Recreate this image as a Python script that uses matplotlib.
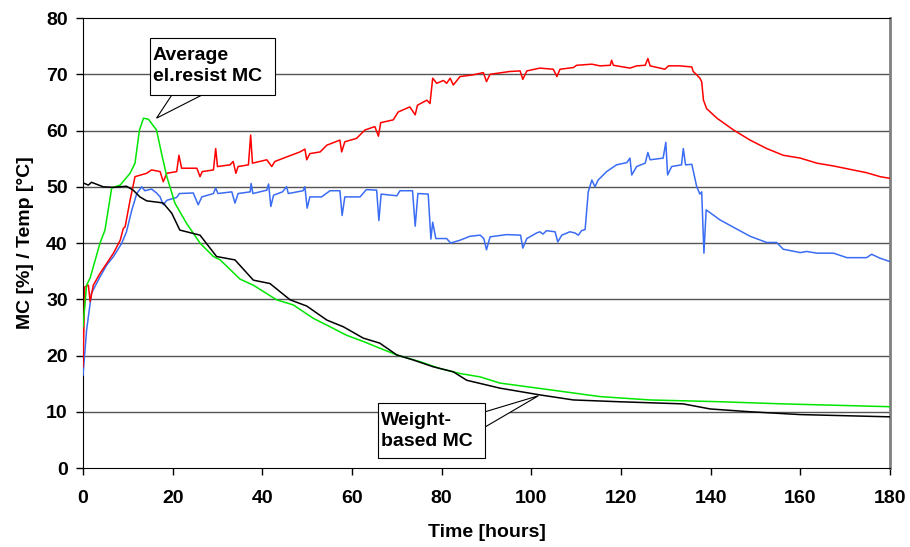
import matplotlib
matplotlib.use("Agg")
import matplotlib.pyplot as plt
from matplotlib.patches import Rectangle, Polygon
import numpy as np

plt.rcParams['font.family'] = ['Liberation Sans', 'DejaVu Sans']
plt.rcParams['font.weight'] = 'bold'

# 温度曲线 (红)
red_t = [0, 0.4, 1.2, 1.6, 2.3, 3.8, 5.3, 6.8, 8.3, 9.0, 9.4, 10.5, 11.6, 14.2, 15.3,
         17.2, 17.9, 18.7, 20.9, 21.4, 22.0, 25.4, 26.1, 26.6, 29.1, 29.6, 30.0, 32.8,
         33.5, 34.1, 34.6, 36.9, 37.4, 37.8, 41.0, 42.1, 42.8, 45.4, 48.4, 49.5, 49.9,
         50.6, 52.9, 54.4, 57.3, 57.7, 58.4, 61.0, 62.9, 65.1, 65.9, 66.4, 69.2, 70.3,
         72.9, 74.1, 74.6, 76.7, 77.4, 78.0, 78.9, 80.4, 81.1, 81.9, 82.6, 84.1, 87.0,
         89.3, 90.0, 90.8, 95.2, 97.5, 98.1, 99.0, 101.9, 104.9, 105.7, 106.4, 109.4,
         110.1, 113.5, 115.3, 117.6, 117.9, 118.3, 122.0, 123.5, 125.4, 126.0, 126.5,
         129.8, 130.6, 133.2, 135.8, 136.1, 136.9, 137.6, 138.0, 138.4, 139.1, 141.4,
         145.1, 148.8, 152.5, 156.2, 160.0, 163.7, 167.4, 171.1, 174.8, 177.8, 180]
red_v = [18.0, 32.2, 32.5, 29.6, 32.5, 34.6, 36.4, 38.2, 40.5, 42.6, 42.9, 47.6, 51.8, 52.4, 53.0,
         52.7, 50.9, 52.4, 52.7, 55.6, 53.3, 53.3, 51.8, 52.7, 53.0, 56.8, 53.6, 53.9,
         54.5, 52.4, 53.6, 53.9, 59.2, 54.2, 54.8, 53.6, 54.5, 55.3, 56.2, 56.7, 54.8,
         55.9, 56.2, 57.4, 58.3, 56.2, 58.0, 58.6, 60.1, 60.7, 59.0, 61.4, 61.9, 63.3,
         64.2, 62.8, 64.5, 65.4, 64.8, 69.3, 68.4, 68.9, 68.4, 69.3, 68.1, 69.6, 69.9,
         70.3, 68.7, 70.0, 70.5, 70.6, 69.1, 70.6, 71.1, 70.9, 69.6, 70.9, 71.2,
         71.6, 71.8, 71.5, 71.6, 72.5, 71.6, 71.1, 71.5, 71.6, 72.8, 71.5,
         70.9, 71.5, 71.5, 71.3, 70.5, 69.9, 69.3, 68.7, 65.4, 63.9, 62.2,
         60.1, 58.3, 56.8, 55.6, 55.1, 54.2, 53.7, 53.1, 52.5, 51.8, 51.5]

# 温度曲线 (蓝)
blue_t = [0, 0.8, 1.9, 3.8, 5.3, 6.8, 8.6, 9.7, 10.9, 12.0, 13.1, 13.8, 15.3, 16.4, 17.2,
          17.9, 18.7, 20.9, 21.5, 24.6, 25.7, 26.5, 29.1, 29.6, 30.1, 33.2, 33.9, 34.6,
          37.3, 37.5, 37.9, 41.0, 41.4, 41.9, 42.5, 44.5, 45.4, 45.8, 49.1, 49.5, 50.0,
          50.6, 53.2, 55.1, 57.3, 57.8, 58.4, 61.8, 63.2, 65.5, 66.0, 66.5, 70.0, 70.7,
          73.5, 74.1, 74.7, 77.0, 77.6, 78.0, 78.7, 81.1, 82.0, 84.1, 86.3, 88.6, 89.4,
          90.0, 90.8, 94.5, 97.6, 98.1, 99.0, 101.2, 101.9, 102.6, 103.4, 105.3, 105.9,
          106.8, 108.6, 109.7, 110.5, 111.2, 112.0, 112.7, 113.5, 114.2, 114.9, 116.8,
          119.0, 121.3, 122.0, 122.4, 123.5, 125.4, 126.0, 126.5, 129.4, 130.0, 130.4,
          131.3, 133.5, 133.9, 134.4, 135.8, 136.9, 137.6, 138.0, 138.5, 139.0, 142.1,
          145.8, 148.8, 152.5, 154.7, 156.2, 160.0, 161.4, 163.7, 167.4, 170.4, 174.8,
          175.9, 177.8, 180]
blue_v = [16.5, 24.5, 31.1, 34.0, 36.1, 37.6, 39.9, 42.0, 45.9, 48.8, 50.0, 49.3, 49.6, 48.9, 48.2,
          46.8, 47.6, 48.1, 48.8, 48.9, 46.8, 48.2, 48.8, 49.8, 48.8, 49.1, 47.1, 48.8,
          49.1, 50.6, 48.8, 49.4, 50.5, 46.5, 48.5, 49.1, 50.0, 48.8, 49.3, 50.0, 46.2,
          48.2, 48.2, 49.3, 49.3, 44.9, 48.2, 48.2, 49.5, 49.4, 44.0, 48.7, 48.4, 49.3,
          49.3, 43.0, 48.8, 48.7, 40.7, 43.7, 40.8, 40.8, 40.0, 40.5, 41.2, 41.4, 40.8,
          38.8, 41.1, 41.5, 41.4, 39.1, 40.8, 41.8, 42.0, 41.6, 42.2, 42.0, 40.2,
          41.4, 42.0, 41.8, 41.4, 42.2, 42.4, 49.1, 51.2, 50.0, 51.2, 52.7,
          53.9, 54.3, 55.1, 52.1, 53.6, 54.2, 56.1, 54.8, 55.1, 57.9, 52.1,
          53.6, 53.9, 56.8, 53.9, 54.0, 50.0, 48.7, 49.1, 38.2, 45.9, 44.1,
          42.5, 41.2, 40.1, 40.1, 38.9, 38.3, 38.5, 38.2, 38.2, 37.4, 37.4,
          38.0, 37.3, 36.7]

# 平均电阻法含水率 (绿)
green_t = [0, 0.8, 1.6, 3.8, 4.9, 6.4, 8.3, 10.5, 11.6, 12.6, 13.5, 14.6, 16.4, 17.5, 18.7,
           20.5, 23.1, 26.1, 27.2, 29.1, 30.6, 35.0, 38.0, 43.2, 46.9, 51.4, 54.4, 58.8,
           62.5, 66.2, 70.0, 75.2, 79.6, 84.1, 88.6, 93.0, 104.2, 115.3, 126.5, 141.4,
           156.2, 180]
green_v = [25.1, 32.5, 33.8, 40.0, 42.3, 49.8, 50.3, 52.4, 54.2, 60.1, 62.2, 62.0, 60.1, 56.0, 51.8,
           47.1, 43.5, 40.0, 39.1, 37.6, 37.0, 33.6, 32.5, 29.9, 29.0, 26.6, 25.4, 23.6,
           22.5, 21.3, 20.1, 18.9, 17.7, 16.8, 16.2, 15.1, 13.9, 12.7, 12.1, 11.8,
           11.4, 10.9]

# 称重法含水率 (黑)
black_t = [0, 1.2, 1.9, 4.5, 6.8, 9.7, 11.2, 12.7, 14.2, 17.2, 17.9, 19.8, 21.6, 23.1, 26.1,
           29.8, 33.9, 38.0, 41.7, 46.2, 49.9, 54.4, 58.1, 62.5, 66.2, 70.0, 73.7, 78.1,
           82.6, 85.6, 93.0, 101.9, 109.4, 119.0, 133.9, 139.9, 148.8, 160.0, 180]
black_v = [50.7, 50.3, 50.8, 50.0, 49.9, 50.1, 49.4, 48.2, 47.5, 47.2, 47.1, 45.3, 42.3, 42.0, 41.4,
           37.6, 37.0, 33.4, 32.8, 29.9, 28.8, 26.3, 25.1, 23.1, 22.2, 20.1, 19.2, 18.0,
           17.1, 15.6, 14.2, 13.0, 12.1, 11.8, 11.4, 10.5, 10.0, 9.5, 9.1]

x_ticks = list(range(0, 181, 20))
y_ticks = list(range(0, 81, 10))


def callout(ax, box, base, tip, text, text_xy):
    # 标注框 + 三角指针
    x0, y0, x1, y1 = box
    ax.add_patch(Polygon([base[0], tip, base[1]], closed=True, facecolor='white',
                         edgecolor='black', linewidth=0.8, zorder=5))
    ax.add_patch(Rectangle((x0, y0), x1 - x0, y1 - y0, facecolor='white',
                           edgecolor='black', linewidth=0.8, zorder=6))
    ax.text(text_xy[0], text_xy[1], text, ha='left', va='center', fontsize=14,
            fontweight='bold', linespacing=1.3, zorder=7)


fig = plt.figure(figsize=(9.1, 5.47), dpi=100)
ax = fig.add_axes([0.0912, 0.1444, 0.8868, 0.8226])

ax.set_xlim(0, 180)
ax.set_ylim(0, 80)

for yv in y_ticks[1:-1]:
    ax.axhline(yv, color='#555555', linewidth=1.0, zorder=1)

ax.plot(blue_t, blue_v, color='#3a6cf4', linewidth=1.1, zorder=3)
ax.plot(red_t, red_v, color='#ff0000', linewidth=1.1, zorder=3)
ax.plot(green_t, green_v, color='#00e600', linewidth=1.1, zorder=3)
ax.plot(black_t, black_v, color='black', linewidth=1.1, zorder=4)

ax.set_xticks(x_ticks)
ax.set_yticks(y_ticks)
ax.tick_params(axis='both', direction='out', length=5, width=1, labelsize=14)
ax.tick_params(axis='y', pad=6)
ax.tick_params(axis='x', pad=11)
for lbl in ax.get_xticklabels() + ax.get_yticklabels():
    lbl.set_fontweight('bold')

ax.spines['left'].set_color('black')
ax.spines['bottom'].set_color('black')
ax.spines['top'].set_color('black')
ax.spines['right'].set_color('#808080')
ax.spines['right'].set_linewidth(2)

ax.set_xlabel('Time [hours]', fontsize=14, fontweight='bold', labelpad=12)
ax.set_ylabel('MC [%] / Temp [°C]', fontsize=14, fontweight='bold', labelpad=9)

callout(ax, (14.9, 66.3, 42.8, 76.4), [(19.8, 66.3), (26.5, 66.3)], (16.4, 62.2),
        'Average\nel.resist MC', (15.6, 71.5))
callout(ax, (65.7, 1.7, 89.7, 11.6), [(89.7, 10.0), (89.7, 7.3)], (101.6, 12.85),
        'Weight-\nbased MC', (66.5, 6.6))

fig.savefig('out.png', dpi=100)
